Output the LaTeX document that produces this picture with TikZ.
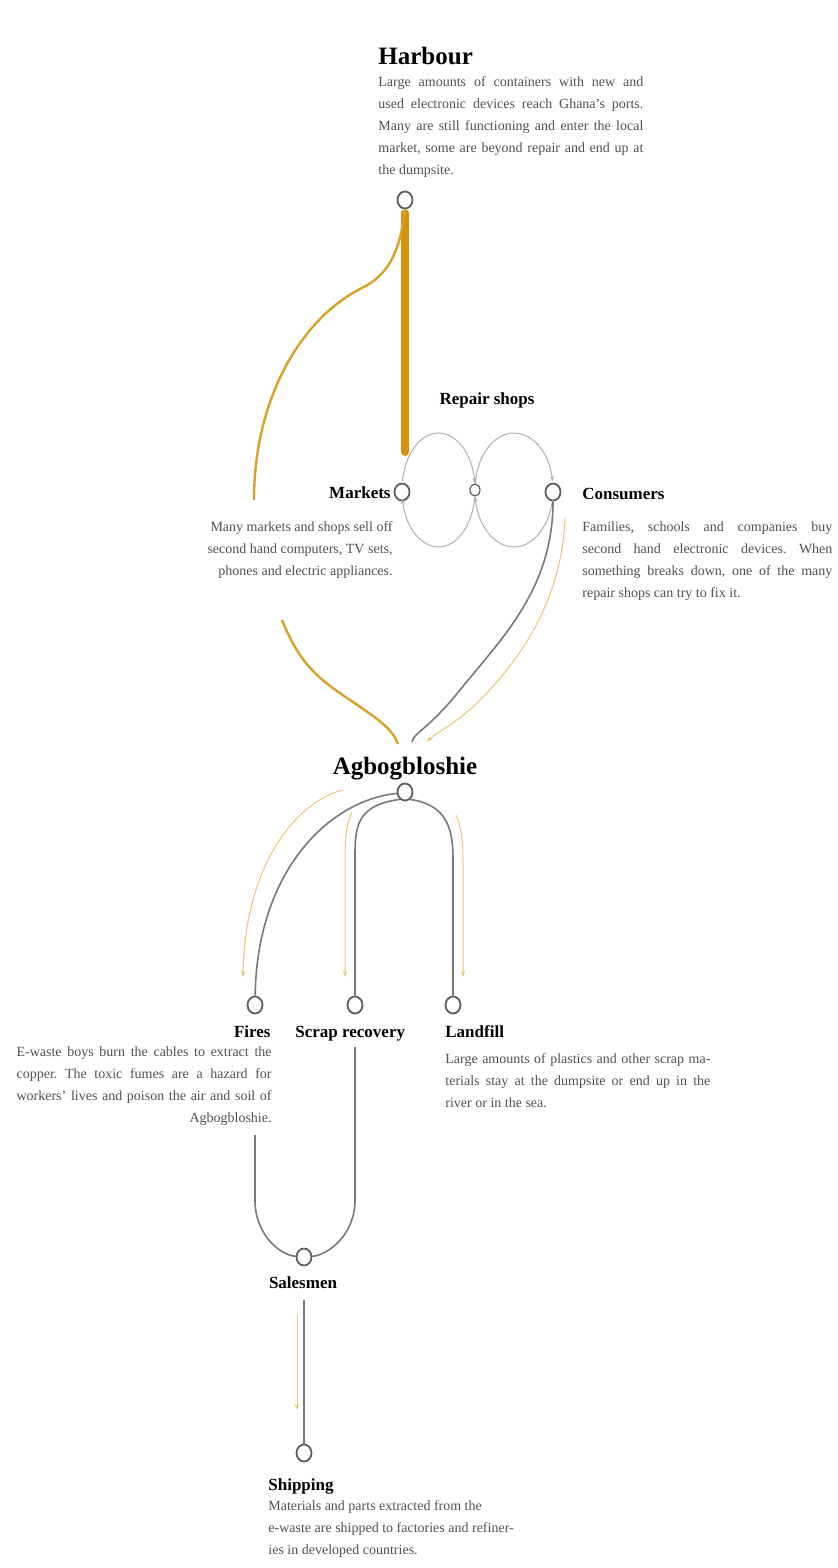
\documentclass[tikz,border=0pt]{standalone}
\usepackage{fontspec}
\setmainfont{Liberation Serif}
\usetikzlibrary{arrows.meta,shapes.geometric}
\definecolor{harbourgold}{RGB}{214,146,10}
\definecolor{curvegold}{RGB}{218,160,40}
\definecolor{arrowgold}{RGB}{236,196,118}
\definecolor{ringgray}{RGB}{95,95,95}
\definecolor{flowgray}{RGB}{120,120,120}
\definecolor{loopgray}{RGB}{175,175,175}
\definecolor{blurbgray}{RGB}{80,80,80}
\newcommand{\fullline}[2]{\makebox[#1][s]{#2}}
\frenchspacing
\begin{document}
\begin{tikzpicture}[x=0.5pt,y=-0.5pt,
    hub/.style={ellipse, draw=ringgray, line width=0.9pt, fill=white, minimum width=7.5pt, minimum height=8.5pt, inner sep=0pt},
    smallhub/.style={hub, minimum width=5pt, minimum height=6pt, line width=0.6pt},
    bigtitle/.style={font=\fontsize{12.5}{15}\selectfont\bfseries, inner sep=0pt},
    subtitle/.style={font=\fontsize{8.5}{10}\selectfont\bfseries, inner sep=0pt},
    blurb/.style={font=\fontsize{7}{11}\selectfont, text=blurbgray, inner sep=0pt},
    flow/.style={draw=flowgray, line width=0.8pt},
    loopline/.style={draw=loopgray, line width=0.5pt, -{Stealth[length=2.5pt,width=2pt]}},
    wastearrow/.style={draw=arrowgold, line width=0.5pt, -{Stealth[length=3pt,width=2.2pt]}}]
    \useasboundingbox (0,0) rectangle (837,1568);

    % harbour
    \node[bigtitle, anchor=base west] (harbourT) at (378,65) {Harbour};
    \node[blurb, anchor=north west, align=left] (harbourB) at (378,76) {\fullline{132.5pt}{Large amounts of containers with new and}\\
        \fullline{132.5pt}{used electronic devices reach Ghana's ports.}\\
        \fullline{132.5pt}{Many are still functioning and enter the local}\\
        \fullline{132.5pt}{market, some are beyond repair and end up at}\\
        the dumpsite.};
    \node[hub] (harbour) at (405,200) {};

    % repair shops loop
    \node[subtitle] (repairT) at (487,400) {Repair shops};
    \node[hub] (markets) at (402,492) {};
    \node[smallhub] (repair) at (475,490) {};
    \node[hub] (consumers) at (553,492) {};
    \node[subtitle, anchor=east] (marketsT) at (391,493) {Markets};
    \node[subtitle, anchor=west] (consumersT) at (582,494) {Consumers};
    \node[blurb, anchor=north east, align=right] (marketsB) at (393,521) {Many markets and shops sell off\\
        second hand computers, TV sets,\\
        phones and electric appliances.};
    \node[blurb, anchor=north west, align=left] (consumersB) at (582,521) {\fullline{125pt}{Families, schools and companies buy}\\
        \fullline{125pt}{second hand electronic devices. When}\\
        \fullline{125pt}{something breaks down, one of the many}\\
        repair shops can try to fix it.};

    \draw[loopline] (438.5,490) ++(189:36.5 and 57) arc[start angle=189, end angle=353, x radius=36.5, y radius=57];
    \draw[loopline] (438.5,490) ++(7:36.5 and 57) arc[start angle=7, end angle=171, x radius=36.5, y radius=57];
    \draw[loopline] (514,490) ++(187:39 and 57) arc[start angle=187, end angle=351, x radius=39, y radius=57];
    \draw[loopline] (514,490) ++(9:39 and 57) arc[start angle=9, end angle=173, x radius=39, y radius=57];

    % dumpsite
    \node[bigtitle, anchor=base] (agboT) at (405,774) {Agbogbloshie};
    \node[hub] (agbo) at (405,792) {};

    \coordinate (thickend) at (405,452);
    \coordinate (curvegap1) at (254,500);
    \coordinate (curvegap2) at (282,620);
    \coordinate (agboin1) at (398,744);
    \coordinate (agboin2) at (412,742);
    \coordinate (consumersarrow) at (565,518);
    \coordinate (agboarrow) at (427,742);

    \draw[harbourgold, line width=4pt, line cap=round] ([yshift=-2pt]harbour.south) -- (thickend);
    \draw[curvegold, line width=1.2pt] (harbour.south) .. controls (400,250) and (390,275) .. (360,289) .. controls (300,320) and (254,400) .. (curvegap1);
    \draw[curvegold, line width=1.2pt] (curvegap2) .. controls (300,665) and (320,680) .. (350,700) .. controls (380,720) and (393,730) .. (agboin1);
    \draw[flow] (consumers.south) .. controls (553,590) and (500,640) .. (460,690) .. controls (428,730) and (414,732) .. (agboin2);
    \draw[wastearrow] (consumersarrow) .. controls (562,600) and (520,660) .. (480,700) .. controls (455,725) and (435,733) .. (agboarrow);

    % three ways out
    \node[hub] (fires) at (255,1005) {};
    \node[hub] (scrap) at (355,1005) {};
    \node[hub] (landfill) at (453,1005) {};
    \node[subtitle, anchor=base east] (firesT) at (271,1037) {Fires};
    \node[subtitle, anchor=base west] (scrapT) at (295,1037) {Scrap recovery};
    \node[subtitle, anchor=base west] (landfillT) at (445,1037) {Landfill};
    \node[blurb, anchor=north east, align=left] (firesB) at (272,1046) {\fullline{127.5pt}{E-waste boys burn the cables to extract the}\\
        \fullline{127.5pt}{copper. The toxic fumes are a hazard for}\\
        \fullline{127.5pt}{workers' lives and poison the air and soil of}\\
        \makebox[127.5pt][r]{Agbogbloshie.}};
    \node[blurb, anchor=north west, align=left] (landfillB) at (445,1053) {\fullline{132.5pt}{Large amounts of plastics and other scrap ma-}\\
        \fullline{132.5pt}{terials stay at the dumpsite or end up in the}\\
        river or in the sea.};

    \coordinate (firesarrow) at (343,790);
    \coordinate (scraparrow) at (352,812);
    \coordinate (landfillarrow) at (456,815);
    \draw[flow] (agbo.190) .. controls (330,800) and (257,870) .. (fires);
    \draw[wastearrow] (firesarrow) .. controls (300,800) and (245,860) .. (243,977);
    \draw[flow] (agbo.235) .. controls (358,805) and (355,825) .. (355,855) -- (scrap);
    \draw[wastearrow] (scraparrow) .. controls (346,825) and (345,840) .. (345,860) -- (345,977);
    \draw[flow] (agbo.-55) .. controls (448,805) and (453,830) .. (453,860) -- (landfill);
    \draw[wastearrow] (landfillarrow) .. controls (462,828) and (463,845) .. (463,860) -- (463,977);

    % selling and shipping
    \node[hub] (sales) at (304,1257) {};
    \node[subtitle, anchor=base] (salesT) at (303,1288) {Salesmen};
    \node[hub] (shipping) at (304,1453) {};
    \node[subtitle, anchor=base west] (shippingT) at (268,1490) {Shipping};
    \node[blurb, anchor=north west, align=left] (shippingB) at (268,1500) {Materials and parts extracted from the\\
        e-waste are shipped to factories and refiner-\\
        ies in developed countries.};

    \coordinate (firesfoot) at (255,1135);
    \coordinate (scrapfoot) at (355,1047);
    \coordinate (salesfoot) at (304,1300);
    \coordinate (shiparrow) at (297,1315);
    \draw[flow] (firesfoot) -- (255,1200) .. controls (255,1235) and (280,1255) .. (sales);
    \draw[flow] (scrapfoot) -- (355,1200) .. controls (355,1235) and (328,1255) .. (sales);
    \draw[flow] (salesfoot) -- (shipping);
    \draw[wastearrow] (shiparrow) -- (297,1410);
\end{tikzpicture}
\end{document}
